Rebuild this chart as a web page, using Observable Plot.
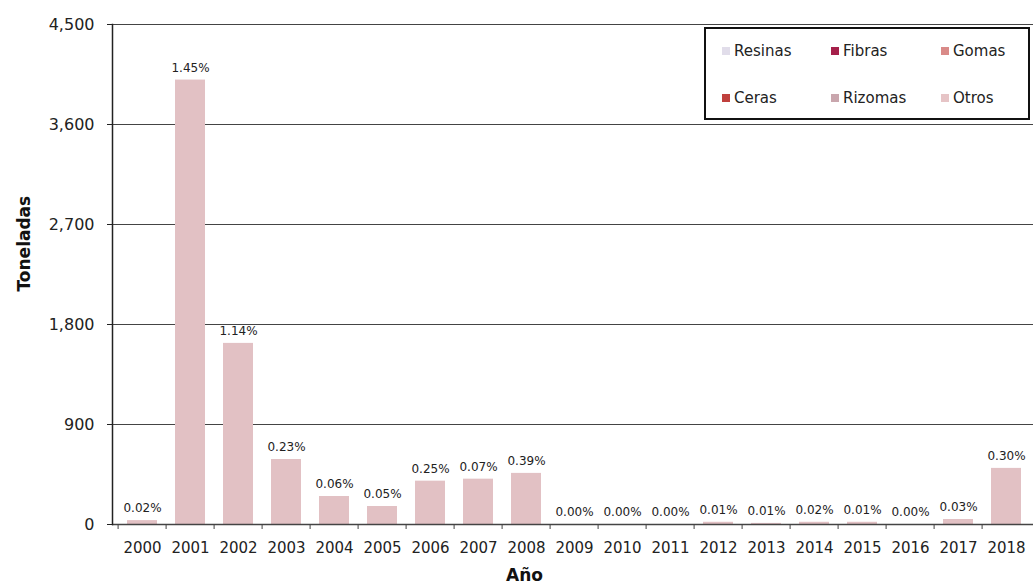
<!DOCTYPE html>
<html><head><meta charset="utf-8">
<script src="https://cdn.jsdelivr.net/npm/d3@7"></script>
<script src="https://cdn.jsdelivr.net/npm/@observablehq/plot@0.6"></script>
<style>
body{margin:0;background:#fff;font-family:"DejaVu Sans",sans-serif;}
#wrap{position:relative;width:1033px;height:584px;}
#legend{position:absolute;left:704px;top:27px;width:322px;height:89px;border:2px solid #111;background:#fff;box-sizing:content-box;}
.li{position:absolute;font-size:15px;color:#222;display:flex;align-items:center;height:18px;}
.sw{width:8px;height:8px;margin-right:4px;display:inline-block;}
</style></head>
<body><div id="wrap"><div id="chart"></div><div id="legend"></div></div>
<script>
const years = ["2000","2001","2002","2003","2004","2005","2006","2007","2008","2009","2010","2011","2012","2013","2014","2015","2016","2017","2018"];
const toneladas = [35, 4000, 1630, 585, 252, 162, 390, 408, 460, 0, 0, 0, 20, 10, 20, 20, 0, 45, 505];
const porcentajes = ["0.02%","1.45%","1.14%","0.23%","0.06%","0.05%","0.25%","0.07%","0.39%","0.00%","0.00%","0.00%","0.01%","0.01%","0.02%","0.01%","0.00%","0.03%","0.30%"];
const yTicks = [0, 900, 1800, 2700, 3600, 4500];
const series = ["Resinas","Fibras","Gomas","Ceras","Rizomas","Otros"];
const seriesColors = ["#e1ddea","#a5204a","#d98a88","#c0403d","#c9a6ad","#e6c4c6"];

const data = years.map((y,i)=>({year:y, value:toneladas[i], pct:porcentajes[i]}));

const chart = Plot.plot({
  width:1033, height:584,
  marginLeft:112, marginRight:-3, marginTop:24, marginBottom:60,
  style:{fontFamily:"DejaVu Sans, sans-serif", fontSize:"13px", color:"#222", background:"#fff"},
  x:{domain:years, paddingInner:0.38, paddingOuter:0.19, label:null},
  y:{domain:[0,4500], label:null},
  marks:[
    Plot.gridY(yTicks,{stroke:"#444", strokeOpacity:1, strokeWidth:1}),
    Plot.barY(data,{x:"year", y:"value", fill:"#e2c1c4"}),
    Plot.ruleY([0],{stroke:"#444", strokeWidth:1.5}),
    Plot.frame({anchor:"left", stroke:"#222", strokeWidth:1.5}),
    Plot.ruleX(years,{x:d=>d, dx:-24.4, stroke:"#444", insetTop:500, insetBottom:-5}),
    Plot.axisY({ticks:yTicks, tickFormat:d3.format(","), tickSize:5, tickPadding:13, fontSize:16, label:null, stroke:"#222"}),
    Plot.axisX({tickSize:0, tickPadding:18, fontSize:15, label:null}),
    Plot.text(data,{x:"year", y:"value", text:"pct", dy:-12, fontSize:12, fill:"#222"}),
    Plot.text(["Toneladas"],{frameAnchor:"left", dx:-88, dy:17, rotate:-90, fontWeight:"bold", fontSize:17, fill:"#111"}),
    Plot.text(["Año"],{frameAnchor:"bottom", dx:-50, dy:56, fontWeight:"bold", fontSize:17, fill:"#111"})
  ]
});
document.getElementById("chart").appendChild(chart);

const legend = document.getElementById("legend");
const pos = [[16,13],[125,13],[235,13],[16,60],[125,60],[235,60]];
series.forEach((s,i)=>{
  const d = document.createElement("div");
  d.className="li";
  d.style.left=pos[i][0]+"px"; d.style.top=pos[i][1]+"px";
  d.innerHTML = `<span class="sw" style="background:${seriesColors[i]}"></span>${s}`;
  legend.appendChild(d);
});
</script></body></html>
